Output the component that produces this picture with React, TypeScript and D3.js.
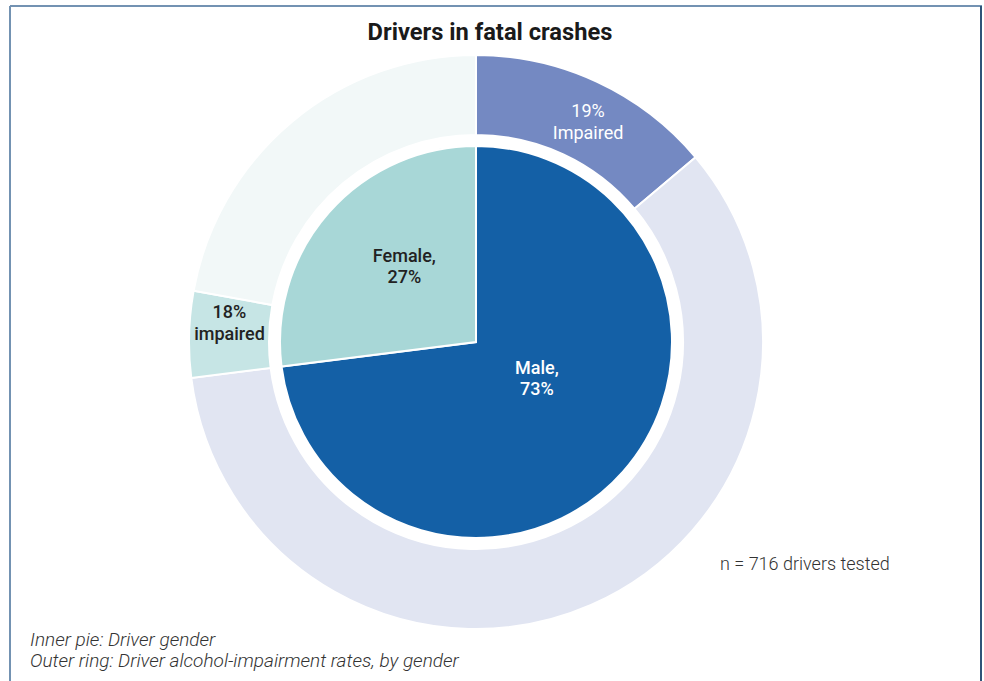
import React from 'react'
import * as d3 from 'd3'

const genders = ['Male', 'Female']
const genderShare = [73, 27]
const impairedRate = [19, 18]
const innerLabels = [['Male,', '73%'], ['Female,', '27%']]
const impairedLabels = [['19%', 'Impaired'], ['18%', 'impaired']]

const W = 984
const H = 681
const cx = 476
const cy = 342
const rPie = 196
const rRingIn = 207
const rRingOut = 287

const FONT = 'Roboto, "Noto Sans", sans-serif'

const pieColors = ['#1460a6', '#a8d7d7']
const ringColors = [
  ['#7489c2', '#e1e5f2'],
  ['#c6e5e5', '#f2f8f8'],
]

const App: React.FC = () => {
  const pie = d3
    .pie<number>()
    .sort(null)
    .value((d) => d)
  const inner = pie(genderShare)

  // outer ring: split each gender slice into impaired / not impaired
  const ring: { start: number; end: number; fill: string }[] = []
  inner.forEach((s, i) => {
    const mid = s.startAngle + (s.endAngle - s.startAngle) * (impairedRate[i] / 100)
    ring.push({ start: s.startAngle, end: mid, fill: ringColors[i][0] })
    ring.push({ start: mid, end: s.endAngle, fill: ringColors[i][1] })
  })

  const pieArc = d3.arc<any>().innerRadius(0).outerRadius(rPie)
  const ringArc = d3.arc<any>().innerRadius(rRingIn).outerRadius(rRingOut)

  const polar = (a: number, r: number) => [Math.sin(a) * r, -Math.cos(a) * r]

  // label anchor points (angle as fraction of slice, radius)
  const innerLabelPos = [
    { f: 0.474, r: 74 },
    { f: 0.529, r: 100 },
  ]
  const impLabelPos = [
    { f: 0.55, r: 243 },
    { f: 0.61, r: 247 },
  ]

  return (
    <svg width={W} height={H} style={{ position: 'absolute', left: 0, top: 0 }}>
      <rect x={0} y={0} width={W} height={H} fill="#fff" />
      <line x1={10} y1={6} x2={982} y2={6} stroke="#7392b2" strokeWidth={2} />
      <line x1={10} y1={6} x2={10} y2={H} stroke="#7392b2" strokeWidth={2} />
      <line x1={981} y1={6} x2={981} y2={H} stroke="#2f5479" strokeWidth={2} />

      <text x={490} y={40} textAnchor="middle" fontFamily={FONT} fontWeight={700} fontSize={23.7} fill="#1a1a1a">
        Drivers in fatal crashes
      </text>

      <g transform={`translate(${cx},${cy})`}>
        {ring.map((d, i) => (
          <path
            key={'r' + i}
            d={ringArc({ startAngle: d.start, endAngle: d.end })!}
            fill={d.fill}
            stroke="#fff"
            strokeWidth={2}
          />
        ))}
        {inner.map((s, i) => (
          <path key={'p' + i} d={pieArc(s)!} fill={pieColors[i]} stroke="#fff" strokeWidth={2} />
        ))}

        {inner.map((s, i) => {
          const a = s.startAngle + (s.endAngle - s.startAngle) * innerLabelPos[i].f
          const [x, y] = polar(a, innerLabelPos[i].r)
          return (
            <text
              key={'il' + i}
              x={x}
              y={y - 10}
              textAnchor="middle"
              fontFamily={FONT}
              fontWeight={500}
              fontSize={18}
              fill={i === 0 ? '#fff' : '#222'}
            >
              {innerLabels[i].map((t, j) => (
                <tspan key={j} x={x} dy={j === 0 ? 0 : 21}>
                  {t}
                </tspan>
              ))}
            </text>
          )
        })}

        {inner.map((s, i) => {
          const span = (s.endAngle - s.startAngle) * (impairedRate[i] / 100)
          const a = s.startAngle + span * impLabelPos[i].f
          const [x, y] = polar(a, impLabelPos[i].r)
          return (
            <text
              key={'pl' + i}
              x={x}
              y={y - 9}
              textAnchor="middle"
              fontFamily={FONT}
              fontWeight={i === 0 ? 400 : 500}
              fontSize={18}
              fill={i === 0 ? '#fff' : '#222'}
            >
              {impairedLabels[i].map((t, j) => (
                <tspan key={j} x={x} dy={j === 0 ? 0 : 22}>
                  {t}
                </tspan>
              ))}
            </text>
          )
        })}
      </g>

      <text x={720} y={570} fontFamily={FONT} fontWeight={300} fontSize={18} fill="#333">
        n = 716 drivers tested
      </text>

      <text fontFamily={FONT} fontStyle="italic" fontWeight={300} fontSize={19} fill="#333">
        <tspan x={30} y={646}>Inner pie: Driver gender</tspan>
        <tspan x={30} y={667}>Outer ring: Driver alcohol-impairment rates, by gender</tspan>
      </text>
    </svg>
  )
}

export default App
